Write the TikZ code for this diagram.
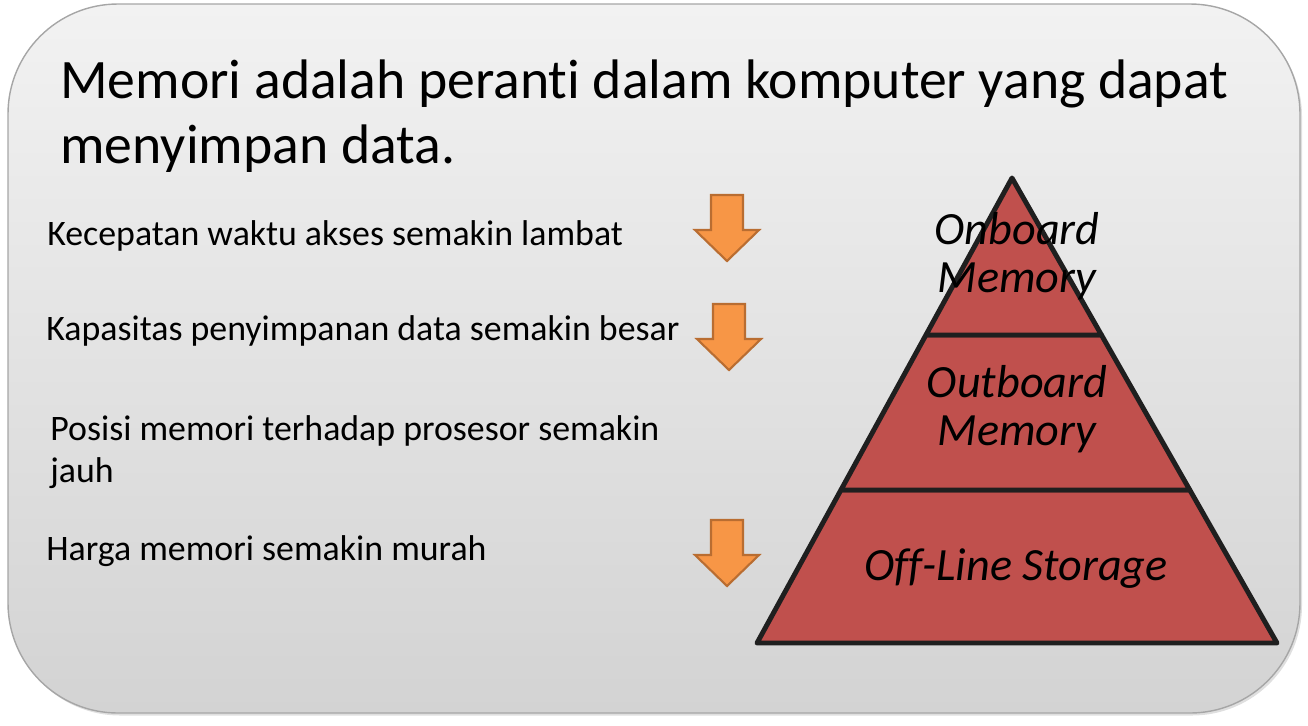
\documentclass[tikz,border=0pt]{standalone}
\usepackage{fontspec}
\setmainfont{Carlito}[Ligatures=NoCommon]
\usepackage{tikz}
\usetikzlibrary{positioning,calc,shadows}
\definecolor{panelTop}{HTML}{F2F2F2}
\definecolor{panelBot}{HTML}{D3D3D3}
\definecolor{panelLine}{HTML}{A6A6A6}
\definecolor{layerRed}{HTML}{C0504D}
\definecolor{arrowFill}{HTML}{F79646}
\definecolor{arrowLine}{HTML}{B96D31}
\tikzstyle{heading}=[anchor=base west,align=left,inner sep=0pt,font=\fontsize{31.7}{36.9}\selectfont]
\tikzstyle{point}=[anchor=base west,align=left,inner sep=0pt,font=\fontsize{20.4}{23.8}\selectfont]
\tikzstyle{layer label}=[anchor=base,align=center,inner sep=0pt,font=\itshape\fontsize{26.3}{27.2}\selectfont]
\tikzstyle{layer}=[fill=layerRed,draw=black!88,line width=2.8pt,line join=round]
\tikzstyle{downarrow}=[fill=arrowFill,draw=arrowLine,line width=1.2pt]

\begin{document}
\begin{tikzpicture}[x=0.02cm,y=-0.02cm]
\useasboundingbox (0,0) rectangle (1308,725);
% panel
\draw[panelLine,line width=0.8pt,rounded corners=2.2cm,top color=panelTop,bottom color=panelBot,
  drop shadow={opacity=0.25,shadow xshift=0.04cm,shadow yshift=-0.05cm}]
  (8,4) rectangle (1300,713);

% texts (base = last line)
\node[heading] (title) at (60,163) {Memori adalah peranti dalam komputer yang dapat\\menyimpan data.};
\node[point] (speed) at (47,245) {Kecepatan waktu akses semakin lambat};
\node[point] (capacity) at (46,340) {Kapasitas penyimpanan data semakin besar};
\node[point] (position) at (50,482) {Posisi memori terhadap prosesor semakin\\jauh};
\node[point] (price) at (46,560) {Harga memori semakin murah};

% arrows
\foreach \ax/\ay in {727/195, 729/304, 727/520}
  \draw[downarrow] (\ax-16,\ay) -- (\ax+16,\ay) -- (\ax+16,\ay+35) -- (\ax+32,\ay+35)
    -- (\ax,\ay+66) -- (\ax-32,\ay+35) -- (\ax-16,\ay+35) -- cycle;

% pyramid
\coordinate (apex) at (1012,178);
\coordinate (bl) at (757,643);
\coordinate (br) at (1277,643);
\coordinate (l1) at ($(apex)!0.3376!(bl)$);
\coordinate (r1) at ($(apex)!0.3376!(br)$);
\coordinate (l2) at ($(apex)!0.671!(bl)$);
\coordinate (r2) at ($(apex)!0.671!(br)$);
\draw[layer] (l2) -- (r2) -- (br) -- (bl) -- cycle;
\draw[layer] (l1) -- (r1) -- (r2) -- (l2) -- cycle;
\draw[layer] (apex) -- (r1) -- (l1) -- cycle;

\node[layer label] (onboard) at (1017,292) {Onboard\\Memory};
\node[layer label] (outboard) at (1017,445) {Outboard\\Memory};
\node[layer label] (offline) at (1016,580) {Off-Line Storage};
\end{tikzpicture}
\end{document}
